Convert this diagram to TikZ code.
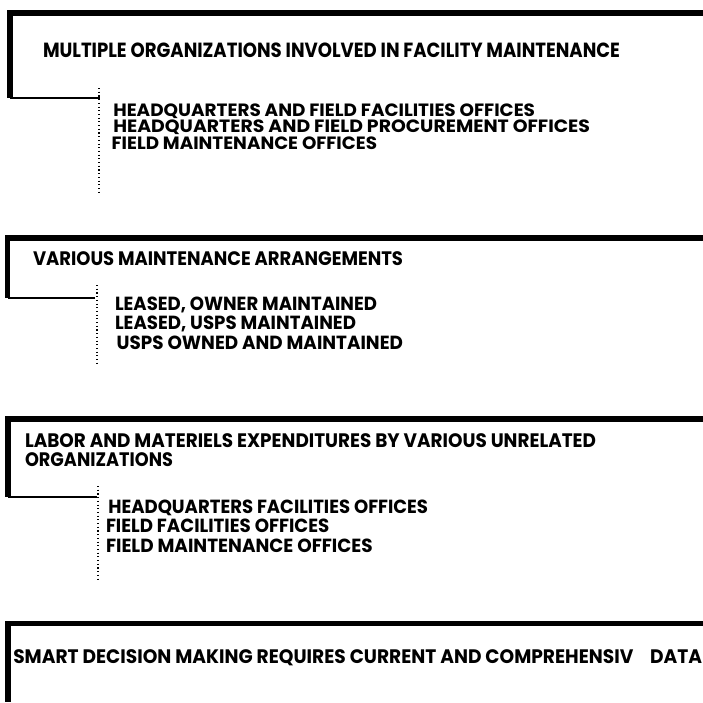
\documentclass[tikz,border=0pt]{standalone}
\usepackage{fontspec}
\setmainfont{Poppins}
\usepackage{graphicx}
% bold text set at a given size (pt) and squeezed to a given width (pt)
\newcommand\sizedtext[3]{\resizebox{#1pt}{\height}{\fontsize{#2}{#2}\selectfont\bfseries #3}}
\begin{document}
\begin{tikzpicture}[x=1pt,y=-1pt,
  txt/.style={anchor=base west, inner sep=0pt, outer sep=0pt},
  ruleline/.style={line width=5.8pt, line join=miter},
  footline/.style={line width=2.2pt},
  trail/.style={line width=1.1pt, dash pattern=on 1.1pt off 2.6pt}]
\useasboundingbox (0,0) rectangle (703,702);

% ---------- block 1 ----------
\node[txt] (b1h) at (43,57.3) {\sizedtext{577}{20.5}{MULTIPLE ORGANIZATIONS INVOLVED IN FACILITY MAINTENANCE}};
\node[txt] (b1i1) at (113.3,116) {\sizedtext{421.7}{17.8}{HEADQUARTERS AND FIELD FACILITIES OFFICES}};
\node[txt] (b1i2) at (113.3,132.7) {\sizedtext{476.7}{17.8}{HEADQUARTERS AND FIELD PROCUREMENT OFFICES}};
\node[txt] (b1i3) at (111.7,149.3) {\sizedtext{265.3}{17.8}{FIELD MAINTENANCE OFFICES}};
\coordinate (b1tr) at (703,12.7);
\coordinate (b1tl) at (10,12.7);
\coordinate (b1bl) at (10,97.7);
\coordinate (b1j)  at (100,97.7);
\coordinate (b1s)  at (99,88);
\coordinate (b1e)  at (99,195);
\draw[ruleline] (b1tr) -- (b1tl) -- (b1bl);
\draw[footline] (b1bl) -- (b1j);
\draw[trail] (b1s) -- (b1e);

% ---------- block 2 ----------
\node[txt] (b2h) at (33,265) {\sizedtext{370}{19.5}{VARIOUS MAINTENANCE ARRANGEMENTS}};
\node[txt] (b2i1) at (115,310.5) {\sizedtext{262}{19}{LEASED, OWNER MAINTAINED}};
\node[txt] (b2i2) at (115,329.5) {\sizedtext{241}{19}{LEASED, USPS MAINTAINED}};
\node[txt] (b2i3) at (116.7,349) {\sizedtext{286.3}{19}{USPS OWNED AND MAINTAINED}};
\coordinate (b2tr) at (703,238);
\coordinate (b2tl) at (7.5,238);
\coordinate (b2bl) at (7.5,298.3);
\coordinate (b2j)  at (95,298.3);
\coordinate (b2s)  at (97,285);
\coordinate (b2e)  at (97,366);
\draw[ruleline] (b2tr) -- (b2tl) -- (b2bl);
\draw[footline] (b2bl) -- (b2j);
\draw[trail] (b2s) -- (b2e);

% ---------- block 3 ----------
\node[txt] (b3h1) at (25,447.3) {\sizedtext{571}{19.5}{LABOR AND MATERIELS EXPENDITURES BY VARIOUS UNRELATED}};
\node[txt] (b3h2) at (25,466) {\sizedtext{148}{19.5}{ORGANIZATIONS}};
\node[txt] (b3i1) at (108.3,513.3) {\sizedtext{319.7}{19}{HEADQUARTERS FACILITIES OFFICES}};
\node[txt] (b3i2) at (106,532.7) {\sizedtext{223.3}{19}{FIELD FACILITIES OFFICES}};
\node[txt] (b3i3) at (106,552.7) {\sizedtext{266.7}{19}{FIELD MAINTENANCE OFFICES}};
\coordinate (b3tr) at (703,419);
\coordinate (b3tl) at (8.3,419);
\coordinate (b3bl) at (8.3,496.7);
\coordinate (b3j)  at (96.7,496.7);
\coordinate (b3s)  at (98,486);
\coordinate (b3e)  at (98,582);
\draw[ruleline] (b3tr) -- (b3tl) -- (b3bl);
\draw[footline] (b3bl) -- (b3j);
\draw[trail] (b3s) -- (b3e);

% ---------- block 4 ----------
\node[txt] (b4h) at (13.3,663.3) {\sizedtext{688.7}{19.5}{SMART DECISION MAKING REQUIRES CURRENT AND COMPREHENSIV\hspace{0.9em}DATA}};
\coordinate (b4tr) at (703,623.5);
\coordinate (b4tl) at (8,623.5);
\coordinate (b4bl) at (8,702);
\draw[ruleline] (b4tr) -- (b4tl) -- (b4bl);
\end{tikzpicture}
\end{document}
